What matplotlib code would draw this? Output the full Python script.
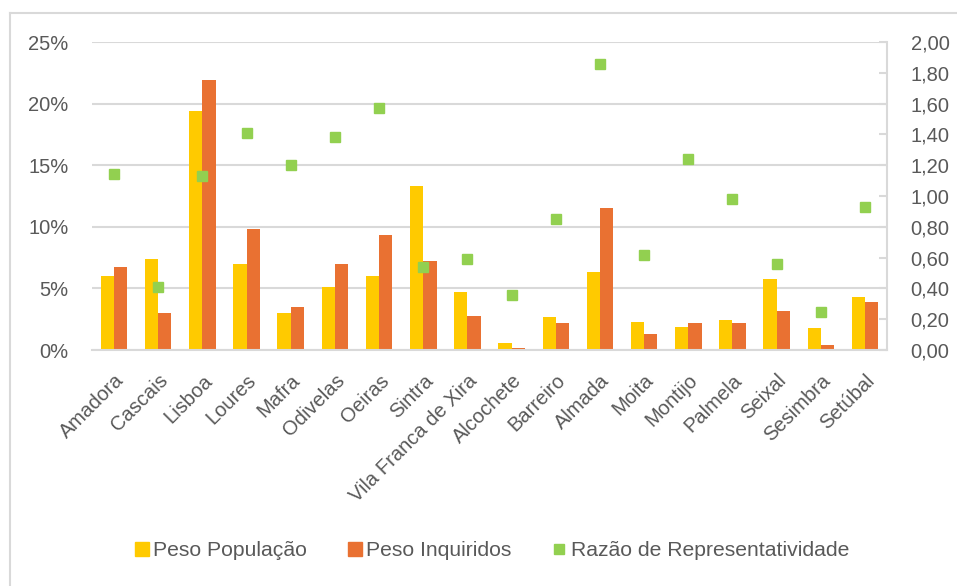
import matplotlib
matplotlib.use("Agg")
import matplotlib.pyplot as plt
from matplotlib.ticker import FuncFormatter
from matplotlib.lines import Line2D

# Dados
concelhos = ["Amadora", "Cascais", "Lisboa", "Loures", "Mafra", "Odivelas", "Oeiras",
             "Sintra", "Vila Franca de Xira", "Alcochete", "Barreiro", "Almada", "Moita",
             "Montijo", "Palmela", "Seixal", "Sesimbra", "Setúbal"]
peso_populacao = [6.0, 7.4, 19.4, 7.0, 3.0, 5.1, 6.0, 13.3, 4.7, 0.6, 2.7, 6.3, 2.3,
                  1.9, 2.4, 5.8, 1.8, 4.3]
peso_inquiridos = [6.7, 3.0, 21.9, 9.8, 3.5, 7.0, 9.3, 7.2, 2.8, 0.15, 2.2, 11.5, 1.3,
                   2.2, 2.2, 3.2, 0.4, 3.9]
razao = [1.14, 0.41, 1.13, 1.41, 1.20, 1.38, 1.57, 0.54, 0.59, 0.36, 0.85, 1.86, 0.62,
         1.24, 0.98, 0.56, 0.25, 0.93]

# Cores
AMARELO = "#FFCA00"
LARANJA = "#E97132"
VERDE = "#92D050"
CINZA_TEXTO = "#595959"
CINZA_LINHA = "#D9D9D9"

plt.rcParams['font.family'] = ['Liberation Sans', 'DejaVu Sans']

fig = plt.figure(figsize=(9.57, 5.86), dpi=100)
ax = fig.add_axes([0.0961, 0.4027, 0.8308, 0.5256])
ax2 = ax.twinx()

x = list(range(len(concelhos)))
w = 0.3
ax.bar([i - w / 2 for i in x], peso_populacao, width=w, color=AMARELO, zorder=2,
       label="Peso População")
ax.bar([i + w / 2 for i in x], peso_inquiridos, width=w, color=LARANJA, zorder=2,
       label="Peso Inquiridos")
ax2.plot(x, razao, linestyle="none", marker="s", markersize=7.5, color=VERDE,
         label="Razão de Representatividade")

# Eixo esquerdo
ax.set_xlim(-0.5, len(concelhos) - 0.5)
ax.set_ylim(0, 25)
ax.set_yticks([0, 5, 10, 15, 20, 25])
ax.yaxis.set_major_formatter(FuncFormatter(lambda v, p: f"{v:.0f}%"))
ax.grid(axis="y", color=CINZA_LINHA, linewidth=1.5, zorder=0)
ax.set_axisbelow(True)
ax.set_xticks(x)
ax.set_xticklabels(concelhos, rotation=45, ha="right", rotation_mode="anchor")
ax.tick_params(axis="y", length=0, pad=17, labelsize=14.5, labelcolor=CINZA_TEXTO)
ax.tick_params(axis="x", length=0, pad=15, labelsize=14.5, labelcolor=CINZA_TEXTO)
for s in ["left", "top", "right"]:
    ax.spines[s].set_visible(False)
ax.spines["bottom"].set_color(CINZA_LINHA)
ax.spines["bottom"].set_linewidth(1.5)

# Eixo direito
ax2.set_ylim(0, 2)
ax2.set_yticks([i * 0.2 for i in range(11)])
ax2.yaxis.set_major_formatter(FuncFormatter(lambda v, p: f"{v:.2f}".replace(".", ",")))
ax2.tick_params(axis="y", direction="in", length=6, width=1.5, color=CINZA_LINHA,
                pad=17, labelsize=14.5, labelcolor=CINZA_TEXTO)
for s in ["left", "top", "bottom"]:
    ax2.spines[s].set_visible(False)
ax2.spines["right"].set_color(CINZA_LINHA)
ax2.spines["right"].set_linewidth(1.5)

# Legenda
handles = [
    Line2D([], [], linestyle="none", marker="s", markersize=10, color=AMARELO),
    Line2D([], [], linestyle="none", marker="s", markersize=10, color=LARANJA),
    Line2D([], [], linestyle="none", marker="s", markersize=7, color=VERDE),
]
labels = ["Peso População", "Peso Inquiridos", "Razão de Representatividade"]
fig.legend(handles, labels, loc="center", bbox_to_anchor=(0.514, 0.06), ncol=3,
           frameon=False, fontsize=15.2, labelcolor=CINZA_TEXTO, handlelength=0.7,
           handletextpad=0.2, columnspacing=1.9)

# Moldura do gráfico (apenas esquerda e topo)
fig.add_artist(Line2D([0.0104, 0.0104], [0, 0.978], color=CINZA_LINHA, linewidth=1.5))
fig.add_artist(Line2D([0.0104, 1], [0.978, 0.978], color=CINZA_LINHA, linewidth=1.5))

fig.savefig("out.png", dpi=100)
